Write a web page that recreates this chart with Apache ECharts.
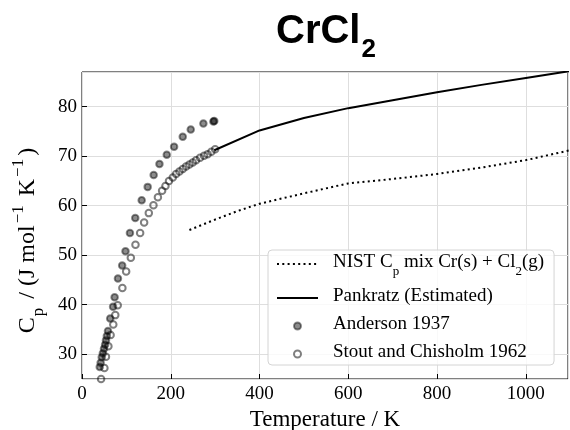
<!DOCTYPE html>
<html><head><meta charset="utf-8">
<script src="https://cdn.jsdelivr.net/npm/echarts@6/dist/echarts.min.js"></script>
<style>html,body{margin:0;padding:0;background:#fff}#c{width:570px;height:430px}</style>
</head><body><div id="c"></div>
<script>
// ---- data ----
const andersonT  = [40, 42, 44.5, 47, 49.5, 52, 54, 56, 58.5, 63.5, 70, 73.5, 81, 90.5, 98, 108, 120, 134.5, 148, 161.5, 174.5, 191, 207.5, 227, 245, 273.5, 296, 298];
const andersonCp = [27.4, 28.3, 29.4, 30.2, 31.1, 31.9, 32.8, 33.7, 34.7, 37.2, 39.6, 41.5, 45.3, 47.9, 50.8, 54.5, 57.5, 61.1, 63.8, 66.2, 68.4, 70.3, 71.9, 73.9, 75.4, 76.6, 77.0, 77.1];
const stoutT  = [43, 50.5, 54, 59.5, 64.5, 70.5, 75, 80.5, 91, 99.5, 110, 120.5, 131, 140, 150.5, 161, 171, 180.5, 188, 196, 204.5, 212, 219.5, 227, 234.5, 242, 249.5, 257, 266, 275, 283, 291.5, 300];
const stoutCp = [25.0, 27.2, 29.5, 31.6, 33.9, 36.0, 37.9, 39.9, 43.4, 46.7, 49.5, 52.1, 54.5, 56.6, 58.5, 60.1, 61.7, 63.0, 64.0, 65.0, 65.7, 66.4, 66.9, 67.4, 67.9, 68.3, 68.7, 69.2, 69.7, 70.1, 70.4, 70.9, 71.4];
const pankratzT  = [298.15, 400, 500, 600, 700, 800, 900, 1000, 1100];
const pankratzCp = [71.2, 75.2, 77.7, 79.7, 81.3, 82.9, 84.4, 85.8, 87.2];
const nistT  = [242, 300, 350, 400, 500, 600, 700, 800, 900, 1000, 1100];
const nistCp = [55.1, 57.2, 58.9, 60.4, 62.5, 64.5, 65.4, 66.4, 67.7, 69.2, 71.2];
const xTickLabels = [0, 200, 400, 600, 800, 1000];
const yTickLabels = [30, 40, 50, 60, 70, 80];

const names = {
  nist: 'NIST Cp mix Cr(s) + Cl2(g)',
  pank: 'Pankratz (Estimated)',
  and: 'Anderson 1937',
  stout: 'Stout and Chisholm 1962'
};
const legendRich = {};
legendRich[names.nist] = '{n|NIST C}{s|p}{n| mix Cr(s) + Cl}{s|2}{n|(g)}';
legendRich[names.pank] = '{n|Pankratz (Estimated)}';
legendRich[names.and] = '{n|Anderson 1937}';
legendRich[names.stout] = '{n|Stout and Chisholm 1962}';

const zip = (a, b) => a.map((v, i) => [v, b[i]]);
const SERIF = 'Liberation Serif';
const noSymbol = {color: 'rgba(0,0,0,0)', borderColor: 'rgba(0,0,0,0)', borderWidth: 0};

const chart = echarts.init(document.getElementById('c'), null, {renderer: 'canvas'});
chart.setOption({
  animation: false,
  backgroundColor: '#fff',
  title: {
    text: '{a|CrCl}{b|2}',
    left: 276, top: 12, padding: 0,
    textStyle: {
      rich: {
        a: {fontFamily: 'Liberation Sans', fontWeight: 'bold', fontSize: 40, lineHeight: 44, verticalAlign: 'top', color: '#000'},
        b: {fontFamily: 'Liberation Sans', fontWeight: 'bold', fontSize: 26, lineHeight: 26, padding: [25, 0, 0, 1], verticalAlign: 'top', color: '#000'}
      }
    }
  },
  grid: {left: 82, top: 72, width: 486, height: 307, show: true, borderColor: '#000', borderWidth: 1,
         backgroundColor: 'transparent', containLabel: false, outerBoundsMode: 'none'},
  legend: {
    orient: 'vertical', left: 268, top: 250,
    padding: [3, 10, 3, 8], itemGap: 9,
    itemWidth: 41, itemHeight: 7,
    backgroundColor: 'rgba(255,255,255,0.8)', borderColor: '#d4d4d4', borderWidth: 1, borderRadius: 4,
    data: [
      {name: names.nist, itemStyle: noSymbol},
      {name: names.pank, itemStyle: noSymbol},
      names.and, names.stout
    ],
    formatter: n => legendRich[n],
    textStyle: {
      fontFamily: SERIF, fontSize: 19, color: '#000', padding: [0, 0, 0, 10],
      rich: {
        n: {fontFamily: SERIF, fontSize: 19, lineHeight: 22, verticalAlign: 'top', color: '#000'},
        s: {fontFamily: SERIF, fontSize: 13, lineHeight: 13, padding: [12, 0, 0, 0], verticalAlign: 'top', color: '#000'}
      }
    }
  },
  xAxis: {
    type: 'value', min: 0, max: 1095, interval: 200,
    axisLine: {show: false},
    axisTick: {show: true, inside: true, length: 5, lineStyle: {color: '#000', width: 1}},
    axisLabel: {margin: 6, fontFamily: SERIF, fontSize: 19, color: '#000', showMaxLabel: false,
      formatter: v => xTickLabels.indexOf(v) >= 0 ? String(v) : ''},
    splitLine: {show: true, lineStyle: {color: '#dedede', width: 1}},
    name: 'Temperature / K', nameLocation: 'middle', nameGap: 24,
    nameTextStyle: {fontFamily: SERIF, fontSize: 23, color: '#000'}
  },
  yAxis: {
    type: 'value', min: 25, max: 87,
    axisLine: {show: false},
    axisTick: {show: true, inside: true, length: 5, lineStyle: {color: '#000', width: 1}},
    axisLabel: {margin: 5, fontFamily: SERIF, fontSize: 19, color: '#000', showMinLabel: false, showMaxLabel: false,
      formatter: v => yTickLabels.indexOf(v) >= 0 ? String(v) : ''},
    splitLine: {show: true, lineStyle: {color: '#dedede', width: 1}},
    name: '{n|C}{sub|p}{n| / (J mol}{sup|−1}{n| K}{sup|−1}{e|)}',
    nameLocation: 'middle', nameGap: 35, nameRotate: 90,
    nameTextStyle: {
      rich: {
        n: {fontFamily: SERIF, fontSize: 24, lineHeight: 27, padding: [6, 0, 0, 0], verticalAlign: 'top', color: '#000'},
        e: {fontFamily: SERIF, fontSize: 24, lineHeight: 27, padding: [6, 30, 0, 0], verticalAlign: 'top', color: '#000'},
        sub: {fontFamily: SERIF, fontSize: 17, lineHeight: 17, padding: [20, 3, 0, 1], verticalAlign: 'top', color: '#000'},
        sup: {fontFamily: SERIF, fontSize: 17, lineHeight: 17, padding: [0, 3, 0, 2], verticalAlign: 'top', color: '#000'}
      }
    }
  },
  series: [
    {name: names.nist, type: 'line', data: zip(nistT, nistCp), symbol: 'none', smooth: false,
     lineStyle: {color: '#000', width: 2, type: [2, 3.3], cap: 'butt'}, itemStyle: {color: '#000'}, z: 3},
    {name: names.pank, type: 'line', data: zip(pankratzT, pankratzCp), symbol: 'none',
     lineStyle: {color: '#000', width: 2, type: 'solid'}, itemStyle: {color: '#000'}, z: 4},
    {name: names.and, type: 'scatter', data: zip(andersonT, andersonCp), symbol: 'circle', symbolSize: 6.5,
     itemStyle: {color: 'rgba(0,0,0,0.45)', borderColor: 'rgba(0,0,0,0.45)', borderWidth: 2, opacity: 1}, z: 2},
    {name: names.stout, type: 'scatter', data: zip(stoutT, stoutCp), symbol: 'circle', symbolSize: 6.5,
     itemStyle: {color: 'rgba(255,255,255,0)', borderColor: 'rgba(0,0,0,0.5)', borderWidth: 2, opacity: 1}, z: 2}
  ]
});
</script></body></html>
